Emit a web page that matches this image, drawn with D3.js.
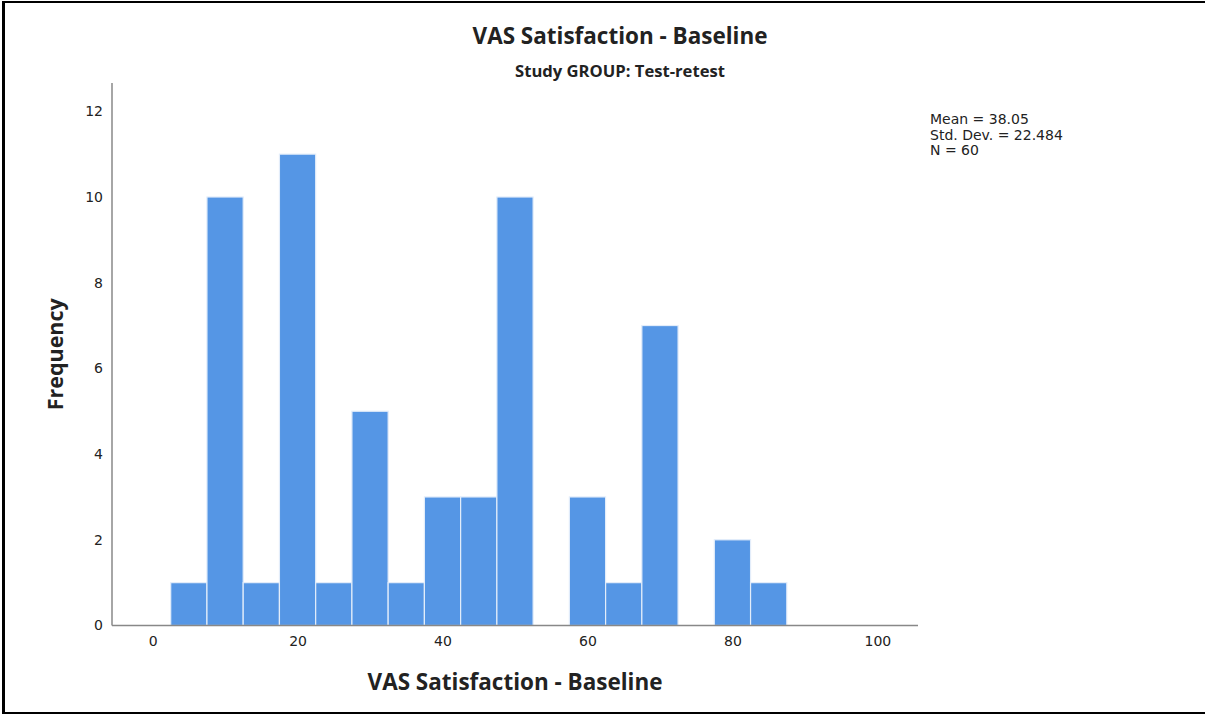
<!DOCTYPE html>
<html>
<head>
<meta charset="utf-8">
<script src="https://cdn.jsdelivr.net/npm/d3@7"></script>
<style>
  html, body { margin: 0; padding: 0; background: #fff; }
  svg { display: block; }
  text { font-family: "DejaVu Sans", "Open Sans", sans-serif; fill: #222; }
  .ttl { font-family: "Open Sans", "DejaVu Sans", sans-serif; font-weight: bold; }
</style>
</head>
<body>
<svg id="chart" width="1205" height="715"></svg>
<script>
// ---- data ----
const binStarts = [2.5, 7.5, 12.5, 17.5, 22.5, 27.5, 32.5, 37.5, 42.5, 47.5, 52.5, 57.5, 62.5, 67.5, 72.5, 77.5, 82.5];
const binWidth = 5;
const frequencies = [1, 10, 1, 11, 1, 5, 1, 3, 3, 10, 0, 3, 1, 7, 0, 2, 1];
const xTicks = [0, 20, 40, 60, 80, 100];
const yTicks = [0, 2, 4, 6, 8, 10, 12];
const titleText = "VAS Satisfaction - Baseline";
const subtitleText = "Study GROUP: Test-retest";
const xTitle = "VAS Satisfaction - Baseline";
const yTitle = "Frequency";
const statsLines = ["Mean = 38.05", "Std. Dev. = 22.484", "N = 60"];

const svg = d3.select("#chart");

// frame
svg.append("line").attr("x1", 3.5).attr("x2", 3.5).attr("y1", 1).attr("y2", 714).attr("stroke", "#000").attr("stroke-width", 3);
svg.append("line").attr("x1", 2).attr("x2", 1205).attr("y1", 2).attr("y2", 2).attr("stroke", "#000").attr("stroke-width", 2);
svg.append("line").attr("x1", 2).attr("x2", 1205).attr("y1", 713).attr("y2", 713).attr("stroke", "#000").attr("stroke-width", 2);

const plotLeft = 112, plotRight = 918, plotTop = 83, plotBottom = 625.5;

const x = d3.scaleLinear().domain([-5.6, 105.6]).range([plotLeft, plotRight]);
const y = d3.scaleLinear().domain([0, 12.66]).range([plotBottom, plotTop]);

// bars
const bins = binStarts.map((s, i) => ({ x0: s, x1: s + binWidth, n: frequencies[i] }));
svg.append("g").selectAll("rect")
  .data(bins.filter(d => d.n > 0))
  .join("rect")
  .attr("x", d => x(d.x0))
  .attr("width", d => x(d.x1) - x(d.x0))
  .attr("y", d => y(d.n))
  .attr("height", d => y(0) - y(d.n))
  .attr("fill", "#5596E5")
  .attr("stroke", "#E3EDFA")
  .attr("stroke-width", 1.2);

// axes
const xAxis = d3.axisBottom(x).tickValues(xTicks).tickSize(0).tickPadding(11).tickFormat(d3.format("d"));
const gx = svg.append("g").attr("transform", `translate(0,${plotBottom})`).call(xAxis);
gx.select(".domain").attr("stroke", "#888").attr("stroke-width", 1.5).attr("d", `M${plotLeft},0H${plotRight}`);
gx.selectAll("text").attr("font-size", 14).attr("fill", "#222").attr("font-family", "DejaVu Sans");

const yAxis = d3.axisLeft(y).tickValues(yTicks).tickSize(0).tickPadding(9).tickFormat(d3.format("d"));
const gy = svg.append("g").attr("transform", `translate(${plotLeft},0)`).call(yAxis);
gy.select(".domain").attr("stroke", "#888").attr("stroke-width", 1.5).attr("d", `M0,${plotTop}V${plotBottom}`);
gy.selectAll("text").attr("font-size", 14).attr("fill", "#222").attr("font-family", "DejaVu Sans");

// fit a text to a target width by adjusting font size
function fit(sel, target, base) {
  sel.attr("font-size", base);
  const w = sel.node().getComputedTextLength();
  if (w > 0) sel.attr("font-size", base * target / w);
  return sel;
}

// titles
fit(svg.append("text").attr("class", "ttl").attr("x", 620).attr("y", 44).attr("text-anchor", "middle").text(titleText), 295, 21);
fit(svg.append("text").attr("class", "ttl").attr("x", 620).attr("y", 77).attr("text-anchor", "middle").text(subtitleText), 210, 14);
fit(svg.append("text").attr("class", "ttl").attr("x", 515).attr("y", 690).attr("text-anchor", "middle").text(xTitle), 295, 21);
fit(svg.append("text").attr("class", "ttl").attr("transform", `translate(63,${(plotTop + plotBottom) / 2}) rotate(-90)`)
  .attr("text-anchor", "middle").text(yTitle), 112, 21);

// stats
svg.append("g").selectAll("text").data(statsLines).join("text")
  .attr("x", 930).attr("y", (d, i) => 124 + i * 15.5)
  .attr("font-size", 14).text(d => d);
</script>
</body>
</html>
